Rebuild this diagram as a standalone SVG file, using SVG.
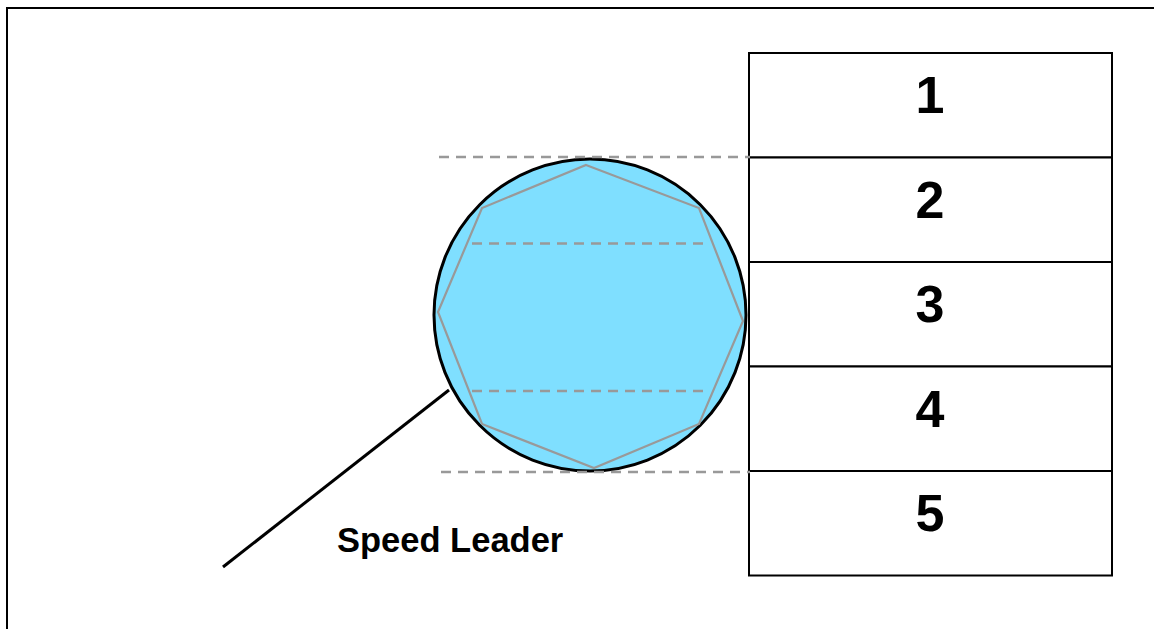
<svg xmlns="http://www.w3.org/2000/svg" width="1154" height="629" viewBox="0 0 1154 629">
<style>
.box{fill:#fff;stroke:#000;stroke-width:2}
.num{font-family:"Liberation Sans",Arial,sans-serif;font-weight:bold;font-size:52px;text-anchor:middle;fill:#000}
.dash{stroke:#999;stroke-width:2.5;stroke-dasharray:10,7;fill:none}
.lbl{font-family:"Liberation Sans",Arial,sans-serif;font-weight:bold;font-size:34.5px;fill:#000}
</style>
<rect x="0" y="0" width="1154" height="629" fill="#fff"/>
<rect id="frame" x="7" y="8" width="1160" height="640" fill="none" stroke="#000" stroke-width="2"/>
<g id="stack">
<g id="row1"><rect class="box" x="749" y="53" width="363" height="104.5"/><text class="num" x="930" y="113">1</text></g>
<g id="row2"><rect class="box" x="749" y="157.5" width="363" height="104.5"/><text class="num" x="930" y="218">2</text></g>
<g id="row3"><rect class="box" x="749" y="262" width="363" height="104.5"/><text class="num" x="930" y="322">3</text></g>
<g id="row4"><rect class="box" x="749" y="366.5" width="363" height="104.5"/><text class="num" x="930" y="427">4</text></g>
<g id="row5"><rect class="box" x="749" y="471" width="363" height="104.5"/><text class="num" x="930" y="531">5</text></g>
</g>
<g id="target">
<circle cx="590" cy="315" r="156" fill="#7fdfff" stroke="#000" stroke-width="3"/>
<polygon points="586,165 699,208 743,321 699,424 594,468 482,424 438,312 482,208" fill="none" stroke="#999" stroke-width="2.2"/>
</g>
<g id="connectors">
<line class="dash" x1="439" y1="157" x2="750" y2="157"/>
<line class="dash" x1="472" y1="243.5" x2="707" y2="243.5"/>
<line class="dash" x1="472" y1="391" x2="708" y2="391"/>
<line class="dash" x1="441" y1="472" x2="750" y2="472"/>
<line x1="223" y1="567" x2="449" y2="390" stroke="#000" stroke-width="3"/>
</g>
<g id="label"><text class="lbl" x="337" y="552">Speed Leader</text></g>
</svg>
